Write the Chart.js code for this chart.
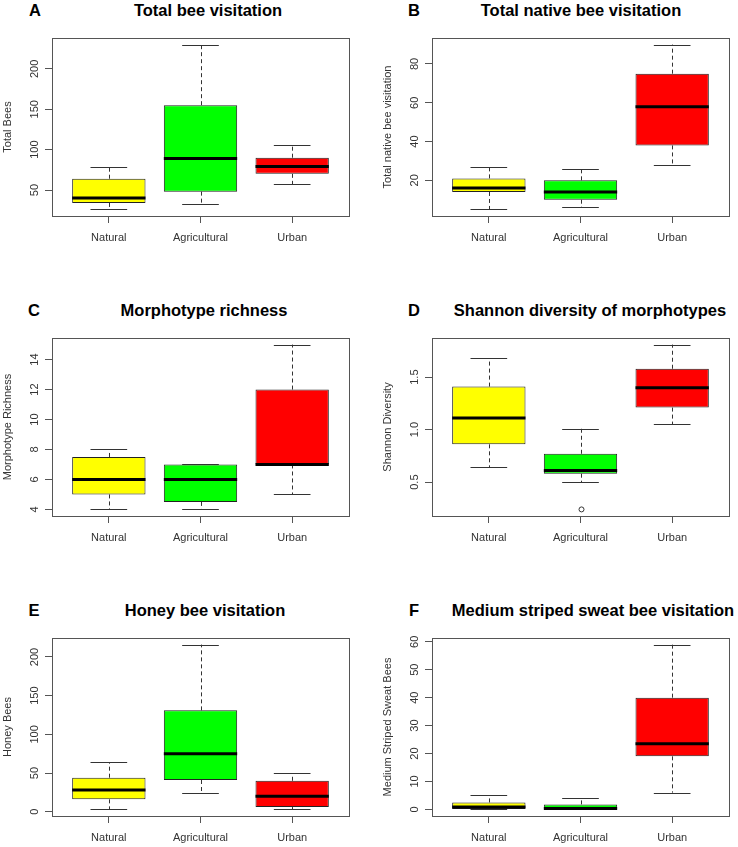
<!DOCTYPE html>
<html>
<head>
<meta charset="utf-8">
<script src="https://cdn.jsdelivr.net/npm/chart.js@4.4.1/dist/chart.umd.min.js"></script>
<style>
    body { margin: 0; width: 738px; height: 847px; position: relative; background: #fff; overflow: hidden;
           font-family: "Liberation Sans", Arial, sans-serif; }
    .panel { position: absolute; width: 357px; height: 214px; }
    .lbl { position: absolute; font-weight: bold; font-size: 16.5px; line-height: 1; color: #000;
           white-space: nowrap; transform: translate(-50%, -50%); }
</style>
</head>
<body>

<div class="lbl" style="left:35px;top:10px">A</div>
<div class="lbl" style="left:208px;top:10px">Total bee visitation</div>
<div class="lbl" style="left:414px;top:10px">B</div>
<div class="lbl" style="left:581px;top:10px">Total native bee visitation</div>
<div class="lbl" style="left:34px;top:310px">C</div>
<div class="lbl" style="left:204px;top:310px">Morphotype richness</div>
<div class="lbl" style="left:414px;top:310px">D</div>
<div class="lbl" style="left:590px;top:310px">Shannon diversity of morphotypes</div>
<div class="lbl" style="left:34px;top:610px">E</div>
<div class="lbl" style="left:205px;top:610px">Honey bee visitation</div>
<div class="lbl" style="left:414px;top:610px">F</div>
<div class="lbl" style="left:593px;top:610px">Medium striped sweat bee visitation</div>

<div class="panel" style="left:0px;top:34px"><canvas id="chartA" width="357" height="214"></canvas></div>
<div class="panel" style="left:380px;top:34px"><canvas id="chartB" width="357" height="214"></canvas></div>
<div class="panel" style="left:0px;top:334px"><canvas id="chartC" width="357" height="214"></canvas></div>
<div class="panel" style="left:380px;top:334px"><canvas id="chartD" width="357" height="214"></canvas></div>
<div class="panel" style="left:0px;top:634px"><canvas id="chartE" width="357" height="214"></canvas></div>
<div class="panel" style="left:380px;top:634px"><canvas id="chartF" width="357" height="214"></canvas></div>

<script>
// groupes (paysages)
const groups = ['Natural', 'Agricultural', 'Urban'];

// résumés en 5 nombres par groupe : [min, Q1, médiane, Q3, max]
const totalBees = [[26, 34, 40, 64, 79], [33, 48, 89, 155, 230], [57, 70, 79, 90, 106]];
const nativeBees = [[5, 14, 16, 21, 27], [6, 10, 14, 20, 26], [28, 38, 58, 75, 90]];
const richness = [[4, 5, 6, 7.5, 8], [4, 4.5, 6, 7, 7], [5, 7, 7, 12, 15]];
const shannon = [[0.64, 0.86, 1.11, 1.41, 1.68], [0.50, 0.58, 0.61, 0.77, 1.01], [1.05, 1.21, 1.40, 1.58, 1.81]];
const honeyBees = [[3, 16, 28, 44, 64], [24, 41, 75, 131, 216], [3, 6, 20, 40, 50]];
const sweatBees = [[0, 0, 0.9, 2.5, 5], [0, 0, 0.3, 1.8, 4], [6, 19, 23.5, 40, 59]];

// valeurs extrêmes
const noOutliers = [[], [], []];
const shannonOutliers = [[], [0.24], []];

// graduations de l'axe y
const totalBeesTicks = ['50', '100', '150', '200'];
const nativeBeesTicks = ['20', '40', '60', '80'];
const richnessTicks = ['4', '6', '8', '10', '12', '14'];
const shannonTicks = ['0.5', '1.0', '1.5'];
const honeyBeesTicks = ['0', '50', '100', '150', '200'];
const sweatBeesTicks = ['0', '10', '20', '30', '40', '50', '60'];

const fills = ['#ffff00', '#00ff00', '#ff0000'];
const FONT = '"Liberation Sans", Arial, sans-serif';
Chart.defaults.font.family = FONT;

// moustaches, médianes, cadre et étiquettes y (style boxplot R)
const boxplotPlugin = {
    id: 'boxplot',
    afterDatasetsDraw(chart, args, opts) {
        const { ctx, chartArea: a, scales: { x, y } } = chart;
        const px = v => Math.round(v) + 0.5;
        ctx.save();
        opts.stats.forEach((s, i) => {
            const c = i + 1;
            const xc = px(x.getPixelForValue(c));
            const s1 = x.getPixelForValue(c - 0.2), s2 = x.getPixelForValue(c + 0.2);
            const b1 = x.getPixelForValue(c - 0.4), b2 = x.getPixelForValue(c + 0.4);
            ctx.strokeStyle = '#333';
            ctx.lineWidth = 1;
            // moustaches pointillées
            ctx.setLineDash([4, 3]);
            ctx.beginPath();
            if (s[4] > s[3]) { ctx.moveTo(xc, y.getPixelForValue(s[3])); ctx.lineTo(xc, y.getPixelForValue(s[4])); }
            if (s[0] < s[1]) { ctx.moveTo(xc, y.getPixelForValue(s[1])); ctx.lineTo(xc, y.getPixelForValue(s[0])); }
            ctx.stroke();
            ctx.setLineDash([]);
            // extrémités
            ctx.beginPath();
            ctx.moveTo(s1, px(y.getPixelForValue(s[4]))); ctx.lineTo(s2, px(y.getPixelForValue(s[4])));
            ctx.moveTo(s1, px(y.getPixelForValue(s[0]))); ctx.lineTo(s2, px(y.getPixelForValue(s[0])));
            ctx.stroke();
            // médiane
            ctx.strokeStyle = '#000';
            ctx.lineWidth = 3;
            ctx.beginPath();
            ctx.moveTo(b1, y.getPixelForValue(s[2])); ctx.lineTo(b2, y.getPixelForValue(s[2]));
            ctx.stroke();
            // valeurs extrêmes
            ctx.strokeStyle = '#333';
            ctx.lineWidth = 1;
            opts.outliers[i].forEach(v => {
                ctx.beginPath();
                ctx.arc(xc, y.getPixelForValue(v), 2.5, 0, Math.PI * 2);
                ctx.stroke();
            });
        });
        // cadre
        ctx.strokeStyle = '#555';
        ctx.lineWidth = 1;
        ctx.strokeRect(px(a.left), px(a.top), Math.round(a.right - a.left), Math.round(a.bottom - a.top));
        // étiquettes de l'axe y, tournées comme dans R
        ctx.fillStyle = '#333';
        ctx.font = '11px ' + FONT;
        ctx.textAlign = 'center';
        ctx.textBaseline = 'middle';
        opts.ticks.forEach(t => {
            ctx.save();
            ctx.translate(a.left - 17, y.getPixelForValue(Number(t)));
            ctx.rotate(-Math.PI / 2);
            ctx.fillText(t, 0, 0);
            ctx.restore();
        });
        ctx.restore();
    }
};

function makePanel(id, stats, outliers, ticks, yTitle) {
    const all = stats.flat().concat(outliers.flat());
    const lo = Math.min(...all), hi = Math.max(...all);
    const ext = (hi - lo) * 0.04;
    const n = groups.length;
    return new Chart(document.getElementById(id), {
        type: 'bar',
        data: {
            datasets: [{
                data: stats.map((s, i) => ({ x: i + 1, y: [s[1], s[3]] })),
                backgroundColor: fills,
                borderColor: '#222',
                borderWidth: 1,
                borderSkipped: false,
                barPercentage: 0.8,
                categoryPercentage: 1.0
            }]
        },
        options: {
            responsive: false,
            animation: false,
            events: [],
            layout: { padding: { left: 0, right: 8, top: 4, bottom: 0 } },
            plugins: {
                legend: { display: false },
                tooltip: { enabled: false },
                boxplot: { stats, outliers, ticks }
            },
            scales: {
                x: {
                    type: 'linear',
                    offset: false,
                    min: 0.5 - 0.04 * n,
                    max: n + 0.5 + 0.04 * n,
                    afterBuildTicks: s => { s.ticks = groups.map((g, i) => ({ value: i + 1 })); },
                    afterFit: s => { s.height = 32; },
                    ticks: {
                        callback: v => groups[v - 1],
                        autoSkip: false, maxRotation: 0,
                        font: { size: 11 }, color: '#333', padding: 8
                    },
                    grid: { offset: false, drawOnChartArea: false, drawTicks: true, tickLength: 7, color: '#555' },
                    border: { display: false }
                },
                y: {
                    type: 'linear',
                    min: lo - ext,
                    max: hi + ext,
                    afterBuildTicks: s => { s.ticks = ticks.map(t => ({ value: Number(t) })); },
                    afterFit: s => { s.width = 52; },
                    ticks: { display: false },
                    grid: { drawOnChartArea: false, drawTicks: true, tickLength: 7, color: '#555' },
                    border: { display: false },
                    title: { display: true, text: yTitle, font: { size: 11 }, color: '#333', padding: { top: 1, bottom: 0 } }
                }
            }
        },
        plugins: [boxplotPlugin]
    });
}

makePanel('chartA', totalBees, noOutliers, totalBeesTicks, 'Total Bees');
makePanel('chartB', nativeBees, noOutliers, nativeBeesTicks, 'Total native bee visitation');
makePanel('chartC', richness, noOutliers, richnessTicks, 'Morphotype Richness');
makePanel('chartD', shannon, shannonOutliers, shannonTicks, 'Shannon Diversity');
makePanel('chartE', honeyBees, noOutliers, honeyBeesTicks, 'Honey Bees');
makePanel('chartF', sweatBees, noOutliers, sweatBeesTicks, 'Medium Striped Sweat Bees');
</script>
</body>
</html>
